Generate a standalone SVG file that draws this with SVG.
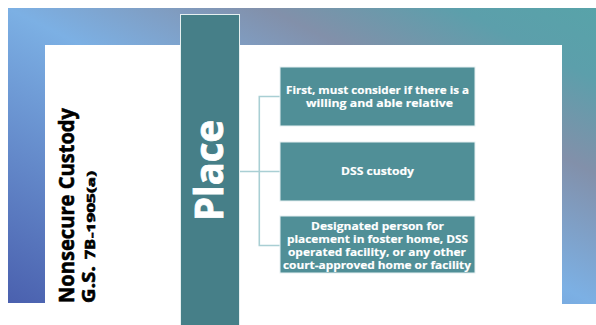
<svg xmlns="http://www.w3.org/2000/svg" width="596" height="325" viewBox="0 0 596 325">
  <defs>
    <!-- diagonal wash for the outer frame -->
    <linearGradient id="frameGrad" x1="1" y1="0" x2="0" y2="1">
      <stop offset="0" stop-color="#58a3a9"/>
      <stop offset="0.12" stop-color="#5c9fab"/>
      <stop offset="0.28" stop-color="#8290aa"/>
      <stop offset="0.5" stop-color="#7cb0e4"/>
      <stop offset="1" stop-color="#4a60ae"/>
    </linearGradient>
    <style>
      .box { fill: #508f97; stroke: #e6f0f1; stroke-width: 1; }
      .hub { fill: #467f88; stroke: #e6f0f1; stroke-width: 1; }
      .btxt { font-family: "Open Sans", "Liberation Sans", sans-serif; font-weight: 700; font-size: 10.5px; fill: #ffffff; text-anchor: middle; stroke: #ffffff; stroke-width: 0.15; }
      .side { font-family: "Open Sans", "Liberation Sans", sans-serif; font-weight: 700; fill: #000000; stroke: #000000; stroke-width: 0.6; }
      .conn { fill: none; stroke: #a9cfd4; stroke-width: 1.6; }
    </style>
  </defs>

  <rect width="596" height="325" fill="#ffffff"/>

  <!-- gradient frame: left, top and right bands -->
  <path d="M8,8 H596 V304 H562 V45 H45 V303 H8 Z" fill="url(#frameGrad)"/>

  <!-- title -->
  <g id="title">
    <text class="side" font-size="22" textLength="195" lengthAdjust="spacingAndGlyphs" transform="translate(74,303) rotate(-90)">Nonsecure Custody</text>
    <text class="side" font-size="17.5" textLength="37" lengthAdjust="spacingAndGlyphs" transform="translate(95,303) rotate(-90)">G.S.</text>
    <text class="side" font-size="13.5" textLength="20" lengthAdjust="spacingAndGlyphs" transform="translate(95,259) rotate(-90)">7B</text>
    <text class="side" font-size="11" stroke-width="0.4" textLength="67" lengthAdjust="spacingAndGlyphs" transform="translate(95,238) rotate(-90)">-1905(a)</text>
  </g>

  <!-- connectors -->
  <g id="connectors">
    <path class="conn" d="M240,171.5 H280"/>
    <path class="conn" d="M280,96.5 H259.3 V245.5 H280"/>
  </g>

  <!-- hub -->
  <g id="place">
    <rect class="hub" x="180.5" y="14.5" width="59" height="320"/>
    <text font-family="'Open Sans', 'Liberation Sans', sans-serif" font-weight="700" font-size="39" fill="#ffffff" stroke="#ffffff" stroke-width="0.8" textLength="101" lengthAdjust="spacingAndGlyphs" transform="translate(223,221) rotate(-90)">Place</text>
  </g>

  <!-- options -->
  <g id="relative">
    <rect class="box" x="280" y="67" width="195" height="59"/>
    <text class="btxt" x="377.5" y="94" textLength="183" lengthAdjust="spacingAndGlyphs">First, must consider if there is a</text>
    <text class="btxt" x="379.5" y="107" textLength="147" lengthAdjust="spacingAndGlyphs">willing and able relative</text>
  </g>

  <g id="dss">
    <rect class="box" x="280" y="142" width="195" height="59"/>
    <text class="btxt" x="377.5" y="174.5" textLength="73" lengthAdjust="spacingAndGlyphs">DSS custody</text>
  </g>

  <g id="designated">
    <rect class="box" x="280" y="216" width="195" height="57"/>
    <text class="btxt" x="377.5" y="230" textLength="133" lengthAdjust="spacingAndGlyphs">Designated person for</text>
    <text class="btxt" x="377.5" y="243" textLength="181" lengthAdjust="spacingAndGlyphs">placement in foster home, DSS</text>
    <text class="btxt" x="377" y="256" textLength="178" lengthAdjust="spacingAndGlyphs">operated facility, or any other</text>
    <text class="btxt" x="377" y="269" textLength="188" lengthAdjust="spacingAndGlyphs">court-approved home or facility</text>
  </g>
</svg>
